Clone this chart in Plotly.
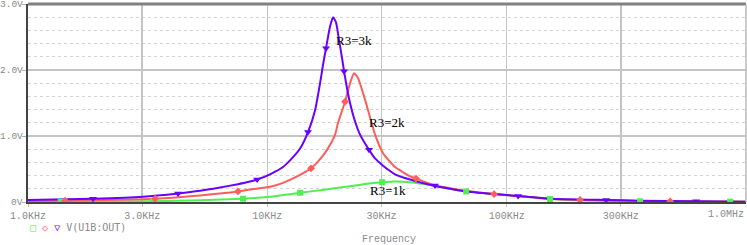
import plotly.graph_objects as go

# ---- data (frequency in kHz, voltage in V) ----
blue_f = [1.00, 1.87, 3.02, 4.24, 5.23, 6.34, 7.54, 8.47, 9.06, 10.26, 11.63, 12.44, 13.70, 14.79,
          15.83, 16.61, 17.09, 17.59, 18.28, 18.82, 19.37, 19.94, 20.52, 20.92, 21.53, 22.16, 23.03,
          24.40, 26.61, 28.19, 30.44, 32.57, 34.17, 39.48, 49.26, 58.0, 67.7, 88.6, 111.6, 151.9,
          260.3, 361.0, 618.7, 1000.0]
blue_v = [0.03, 0.05, 0.08, 0.13, 0.17, 0.22, 0.27, 0.31, 0.34, 0.42, 0.53, 0.63, 0.81, 1.06,
          1.39, 1.80, 2.08, 2.33, 2.66, 2.80, 2.72, 2.45, 2.18, 1.98, 1.72, 1.50, 1.27,
          1.02, 0.79, 0.66, 0.55, 0.47, 0.42, 0.34, 0.25, 0.20, 0.16, 0.12, 0.09, 0.05,
          0.03, 0.02, 0.01, 0.005]

red_f = [1.00, 1.43, 2.42, 3.40, 5.23, 7.54, 8.47, 10.26, 11.63, 13.70, 15.23, 16.61, 17.76,
         19.19, 19.74, 21.12, 22.16, 23.03, 23.93, 24.87, 25.60, 26.35, 28.19, 30.44, 32.57,
         34.17, 39.48, 41.82, 49.26, 58.0, 67.7, 88.6, 111.6, 151.9, 202.6, 361.0, 481.8, 1000.0]
red_v = [0.015, 0.02, 0.035, 0.05, 0.10, 0.16, 0.19, 0.23, 0.29, 0.41, 0.51, 0.65, 0.79,
         1.02, 1.20, 1.52, 1.80, 1.95, 1.88, 1.70, 1.55, 1.39, 1.02, 0.74, 0.61,
         0.53, 0.39, 0.355, 0.26, 0.21, 0.17, 0.12, 0.09, 0.05, 0.03, 0.015, 0.01, 0.005]

green_f = [1.00, 1.37, 3.33, 5.23, 7.92, 10.26, 13.70, 17.59, 22.16, 26.61, 30.44, 34.17, 39.48,
           49.26, 58.0, 67.7, 88.6, 111.6, 151.9, 361.0, 858.5, 1000.0]
green_v = [0.005, 0.005, 0.012, 0.025, 0.05, 0.08, 0.14, 0.19, 0.24, 0.28, 0.30, 0.31, 0.30,
           0.25, 0.20, 0.16, 0.12, 0.09, 0.045, 0.01, 0.005, 0.005]

# marker positions along each trace
blue_mf = [1.87, 4.24, 9.06, 14.79, 17.59, 20.92, 26.61, 50.2, 111.6, 260.3, 618.7]
blue_mv = [0.05, 0.13, 0.34, 1.06, 2.33, 1.98, 0.79, 0.25, 0.09, 0.03, 0.01]
red_mf = [1.43, 3.40, 7.54, 15.23, 21.12, 41.82, 88.6, 202.6, 481.8]
red_mv = [0.02, 0.05, 0.16, 0.51, 1.52, 0.355, 0.12, 0.03, 0.01]
green_mf = [1.37, 3.33, 7.92, 13.70, 30.2, 67.7, 151.9, 361.0, 858.5]
green_mv = [0.005, 0.012, 0.05, 0.14, 0.30, 0.16, 0.045, 0.01, 0.005]

x_tick_khz = [1, 3, 10, 30, 100, 300, 1000]
x_tick_text = ["1.0KHz", "3.0KHz", "10KHz", "30KHz", "100KHz", "300KHz", "1.0MHz"]
y_tick_vals = [0, 1, 2, 3]
y_tick_text = ["0V", "1.0V", "2.0V", "3.0V"]
labels = ["R3=3k", "R3=2k", "R3=1k"]
legend_text = "V(U1B:OUT)"

BLUE = "#6a00ff"
RED = "#ff5c5c"
GREEN = "#50ee50"
TICK_GRAY = "#8a8a8a"

def hz(lst):
    return [v * 1000 for v in lst]

fig = go.Figure()
for f, v, c in [(green_f, green_v, GREEN), (red_f, red_v, RED), (blue_f, blue_v, BLUE)]:
    fig.add_trace(go.Scatter(x=hz(f), y=v, mode="lines",
                             line=dict(color=c, width=2, shape="spline", smoothing=0.5),
                             showlegend=False, hoverinfo="skip"))
fig.add_trace(go.Scatter(x=hz(green_mf), y=green_mv, mode="markers",
                         marker=dict(symbol="square", size=6, color=GREEN), showlegend=False, hoverinfo="skip"))
fig.add_trace(go.Scatter(x=hz(red_mf), y=red_mv, mode="markers",
                         marker=dict(symbol="diamond", size=6, color=RED), showlegend=False, hoverinfo="skip"))
fig.add_trace(go.Scatter(x=hz(blue_mf), y=blue_mv, mode="markers",
                         marker=dict(symbol="triangle-down", size=7, color=BLUE), showlegend=False, hoverinfo="skip"))

mono = "Liberation Mono"
fig.update_layout(
    width=747, height=245, autosize=False,
    margin=dict(l=28, r=1, t=4, b=43, autoexpand=False),
    paper_bgcolor="white", plot_bgcolor="white",
    hovermode=False,
    xaxis=dict(type="log", range=[3, 6], automargin=False,
               tickvals=hz(x_tick_khz[:-1]), ticktext=x_tick_text[:-1],
               tickfont=dict(family=mono, size=10, color=TICK_GRAY),
               ticks="outside", ticklen=3, tickcolor="#c0c0c0",
               ticklabeloverflow="allow",
               showgrid=True, gridcolor="#c4c4c4", gridwidth=1.5,
               showline=True, linecolor="#444444", linewidth=2,
               zeroline=False),
    yaxis=dict(range=[0, 3], tickvals=y_tick_vals, showticklabels=False, automargin=False,
               ticks="outside", ticklen=4, tickcolor="#b0b0b0",
               showgrid=True, gridcolor="#c4c4c4", gridwidth=1.5,
               minor=dict(dtick=0.2, showgrid=True, gridcolor="#d4d4d4", griddash="dot", gridwidth=1),
               showline=True, linecolor="#444444", linewidth=2,
               zeroline=False),
)

# y tick labels
for val, txt in zip(y_tick_vals, y_tick_text):
    fig.add_annotation(xref="paper", yref="y", x=0, y=val, xshift=-3, xanchor="right", yanchor="middle",
                       text=txt, showarrow=False,
                       font=dict(family=mono, size=9.5, color=TICK_GRAY))

# borders
fig.add_shape(type="line", xref="paper", yref="paper", x0=0, x1=1, y0=1, y1=1,
              line=dict(color="#808080", width=3))
fig.add_shape(type="line", xref="paper", yref="paper", x0=1, x1=1, y0=0, y1=1,
              line=dict(color="#b8b8b8", width=1.5))

# last x tick label, kept inside the window
fig.add_annotation(xref="paper", yref="paper", x=1, y=0, yshift=-12, xanchor="right", yanchor="middle",
                   text=x_tick_text[-1], showarrow=False,
                   font=dict(family=mono, size=10, color=TICK_GRAY))

# curve labels
for txt, px, py in zip(labels, [0.426, 0.472, 0.474], [0.818, 0.399, 0.056]):
    fig.add_annotation(xref="paper", yref="paper", x=px, y=py, xanchor="left", yanchor="middle",
                       text=txt, showarrow=False,
                       font=dict(family="Liberation Serif", size=13, color="#000000"))

# axis title
fig.add_annotation(xref="paper", yref="paper", x=0.503, y=-0.19, xanchor="center", yanchor="middle",
                   text="Frequency", showarrow=False,
                   font=dict(family=mono, size=10, color=TICK_GRAY))

# legend line
fig.add_annotation(xref="paper", yref="paper", x=0.0, y=-0.131, xanchor="left", yanchor="middle",
                   text=(f"<span style='color:{GREEN}'>□</span> "
                         f"<span style='color:{RED}'>◇</span> "
                         f"<span style='color:{BLUE}'>▽</span> " + legend_text),
                   showarrow=False,
                   font=dict(family="DejaVu Sans Mono", size=10, color=TICK_GRAY))

fig.write_html("out.html", config={"displayModeBar": False, "staticPlot": True},
               post_script="document.body.style.margin='0px';document.body.style.overflow='hidden';")
